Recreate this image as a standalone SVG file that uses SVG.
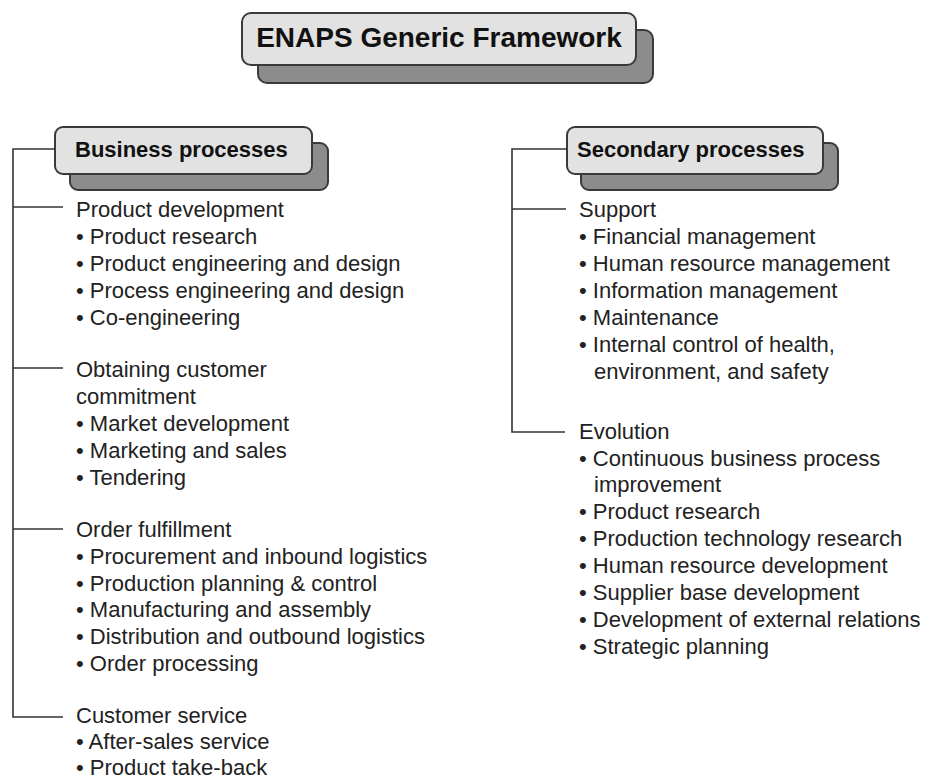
<svg xmlns="http://www.w3.org/2000/svg" width="931" height="778" viewBox="0 0 931 778">
<style>
.bg{fill:#ffffff}
.front{fill:#e2e2e2;stroke:#3a3a3a;stroke-width:2}
.shadow{fill:#8c8c8c;stroke:#3a3a3a;stroke-width:2}
.head{font-family:"Liberation Sans",Arial,sans-serif;font-weight:bold;fill:#111}
.t{font-family:"Liberation Sans",Arial,sans-serif;font-size:22px;fill:#222}
.conn{fill:none;stroke:#333;stroke-width:1.6}
</style>
<rect class="bg" x="0" y="0" width="931" height="778"/>
<g id="connectors">
<path class="conn" d="M55,149 H13 V717 H63"/>
<path class="conn" d="M13,207 H63"/>
<path class="conn" d="M13,368 H63"/>
<path class="conn" d="M13,529 H63"/>
<path class="conn" d="M567,149 H512 V432 H565"/>
<path class="conn" d="M512,209 H566"/>
</g>
<g id="title">
<rect class="shadow" x="258" y="30" width="395" height="53" rx="9"/>
<rect class="front" x="242" y="13" width="394" height="52" rx="9"/>
<text class="head" x="439" y="47" font-size="28" text-anchor="middle">ENAPS Generic Framework</text>
</g>
<g id="business">
<rect class="shadow" x="70" y="143" width="258" height="47" rx="8"/>
<rect class="front" x="55" y="127" width="257" height="47" rx="8"/>
<text class="head" x="75" y="157" font-size="22">Business processes</text>
</g>
<g id="secondary">
<rect class="shadow" x="581" y="143" width="257" height="47" rx="8"/>
<rect class="front" x="567" y="127" width="256" height="47" rx="8"/>
<text class="head" x="577" y="157" font-size="22">Secondary processes</text>
</g>
<g id="product-development">
<text class="t" x="76" y="217">Product development</text>
<text class="t" x="76" y="244">• Product research</text>
<text class="t" x="76" y="271">• Product engineering and design</text>
<text class="t" x="76" y="298">• Process engineering and design</text>
<text class="t" x="76" y="325">• Co-engineering</text>
</g>
<g id="obtaining-customer-commitment">
<text class="t" x="76" y="377">Obtaining customer</text>
<text class="t" x="76" y="404">commitment</text>
<text class="t" x="76" y="431">• Market development</text>
<text class="t" x="76" y="458">• Marketing and sales</text>
<text class="t" x="76" y="485">• Tendering</text>
</g>
<g id="order-fulfillment">
<text class="t" x="76" y="537">Order fulfillment</text>
<text class="t" x="76" y="564">• Procurement and inbound logistics</text>
<text class="t" x="76" y="591">• Production planning &amp; control</text>
<text class="t" x="76" y="617">• Manufacturing and assembly</text>
<text class="t" x="76" y="644">• Distribution and outbound logistics</text>
<text class="t" x="76" y="671">• Order processing</text>
</g>
<g id="customer-service">
<text class="t" x="76" y="723">Customer service</text>
<text class="t" x="76" y="749">• After-sales service</text>
<text class="t" x="76" y="775">• Product take-back</text>
</g>
<g id="support">
<text class="t" x="579" y="217">Support</text>
<text class="t" x="579" y="244">• Financial management</text>
<text class="t" x="579" y="271">• Human resource management</text>
<text class="t" x="579" y="298">• Information management</text>
<text class="t" x="579" y="325">• Maintenance</text>
<text class="t" x="579" y="352">• Internal control of health,</text>
<text class="t" x="594" y="379">environment, and safety</text>
</g>
<g id="evolution">
<text class="t" x="579" y="439">Evolution</text>
<text class="t" x="579" y="466">• Continuous business process</text>
<text class="t" x="594" y="492">improvement</text>
<text class="t" x="579" y="519">• Product research</text>
<text class="t" x="579" y="546">• Production technology research</text>
<text class="t" x="579" y="573">• Human resource development</text>
<text class="t" x="579" y="600">• Supplier base development</text>
<text class="t" x="579" y="627">• Development of external relations</text>
<text class="t" x="579" y="654">• Strategic planning</text>
</g>
</svg>
